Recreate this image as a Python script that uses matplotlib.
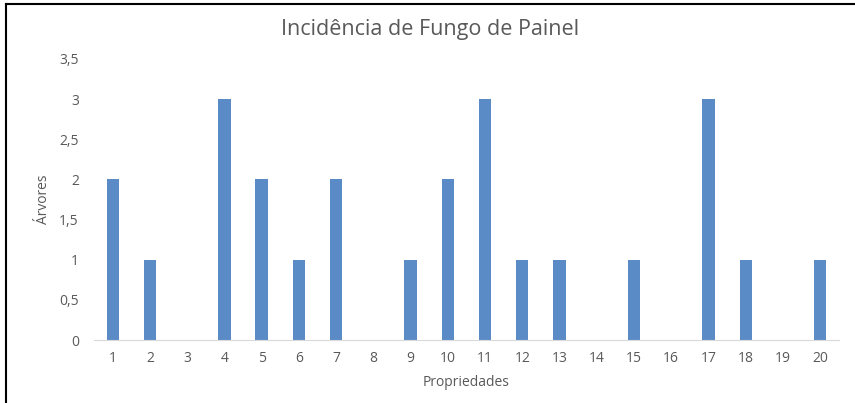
import matplotlib.pyplot as plt
from matplotlib.lines import Line2D

# Data
propriedades = [str(i) for i in range(1, 21)]
arvores = [2, 1, 0, 3, 2, 1, 2, 0, 1, 2, 3, 1, 1, 0, 1, 0, 3, 1, 0, 1]
yticks = [0, 0.5, 1, 1.5, 2, 2.5, 3, 3.5]
ytick_labels = ["0", "0,5", "1", "1,5", "2", "2,5", "3", "3,5"]

plt.rcParams["font.family"] = ["Open Sans", "DejaVu Sans"]
gray = "#595959"

fig = plt.figure(figsize=(8.55, 4.03), dpi=100)
ax = fig.add_axes([0.110, 0.156, 0.871, 0.698])

x = list(range(len(propriedades)))
ax.bar(x, arvores, width=0.33, color="#5b8bc6", zorder=2)

ax.set_xlim(-0.5, len(propriedades) - 0.5)
ax.set_ylim(0, 3.5)
ax.set_xticks(x)
ax.set_xticklabels(propriedades)
ax.set_yticks(yticks)
ax.set_yticklabels(ytick_labels)
ax.tick_params(axis="both", length=0, labelsize=10, colors=gray)
ax.tick_params(axis="x", pad=8)
ax.tick_params(axis="y", pad=11)

for s in ["top", "right", "left"]:
    ax.spines[s].set_visible(False)
ax.spines["bottom"].set_color("#d9d9d9")

fig.text(430 / 855, 1 - 30 / 403, "Incidência de Fungo de Painel", fontsize=15.5,
         color=gray, ha="center", va="center")
ax.set_xlabel("Propriedades", fontsize=10, color=gray, labelpad=6)
ax.set_ylabel("Árvores", fontsize=10, color=gray, labelpad=6)

# outer frame (left and top edges)
fig.add_artist(Line2D([5.5 / 855, 5.5 / 855], [0, 1 - 4 / 403], transform=fig.transFigure,
                      color="black", lw=1.5))
fig.add_artist(Line2D([5.5 / 855, 1], [1 - 4 / 403, 1 - 4 / 403], transform=fig.transFigure,
                      color="black", lw=1.5))

fig.savefig("out.png", dpi=100)
